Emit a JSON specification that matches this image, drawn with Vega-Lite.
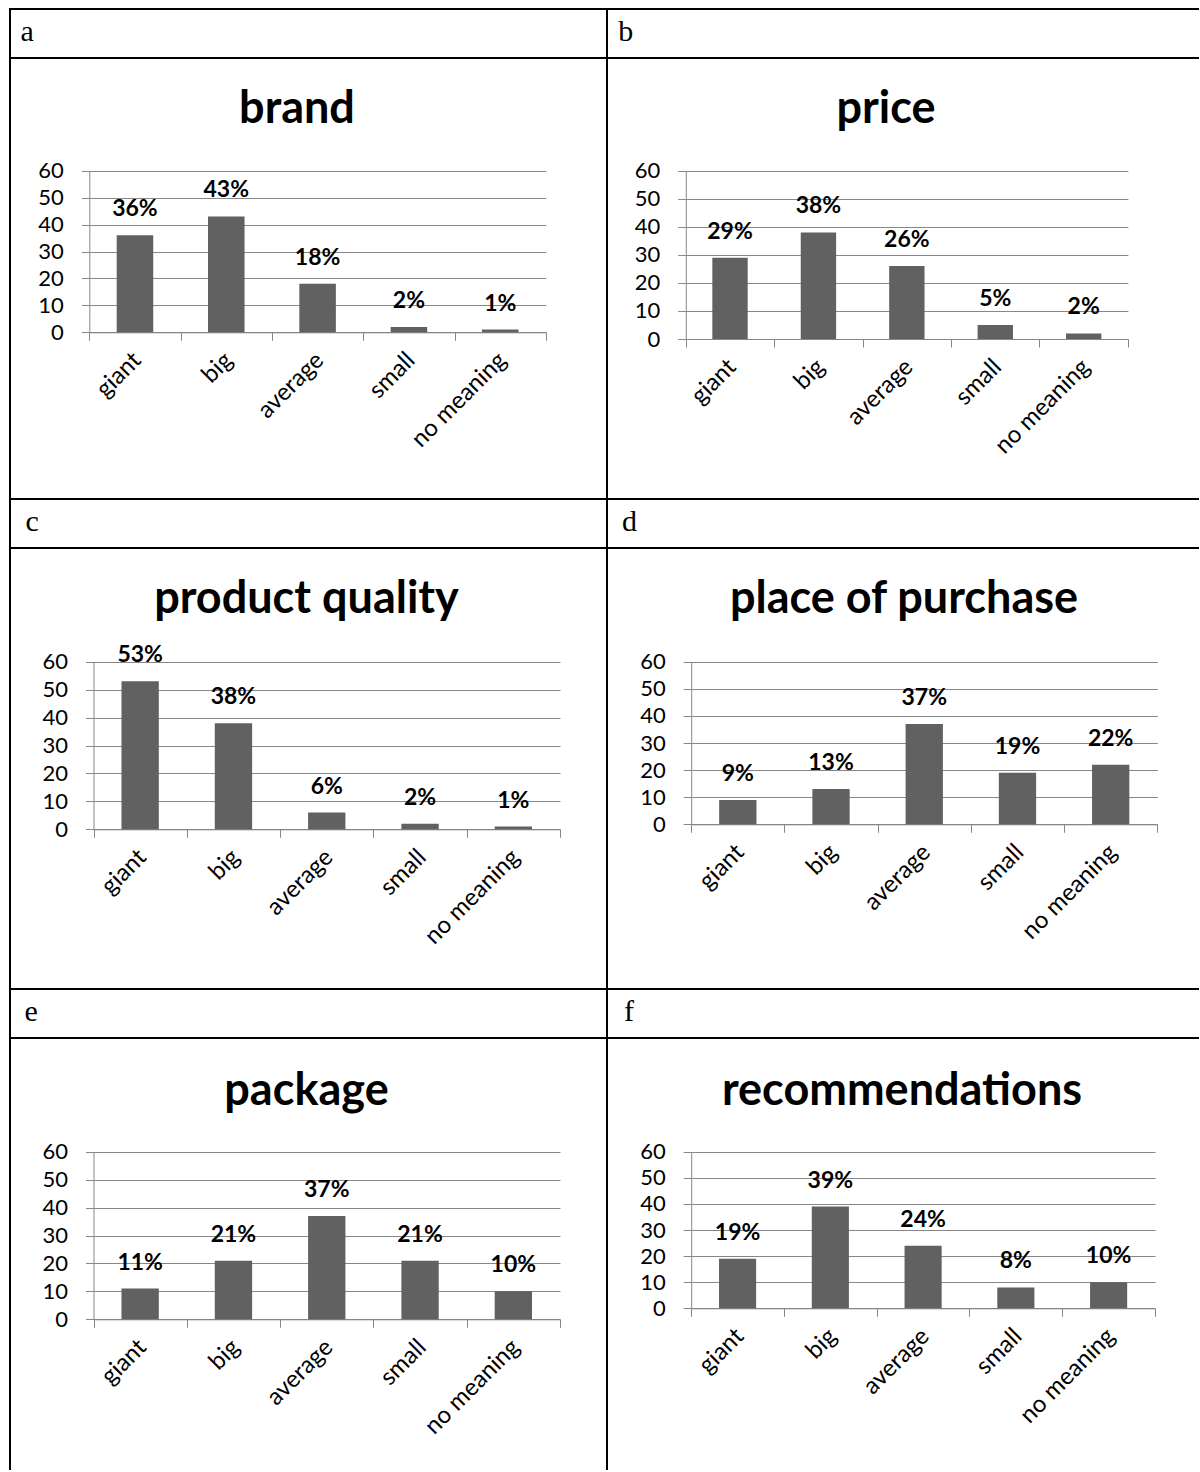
{
  "$schema": "https://vega.github.io/schema/vega-lite/v6.json",
  "padding": {"left": 0, "top": 8, "right": 0, "bottom": 0},
  "background": "white",
  "datasets": {
    "survey": [
      {"chart": "brand", "level": "giant", "value": 36},
      {"chart": "brand", "level": "big", "value": 43},
      {"chart": "brand", "level": "average", "value": 18},
      {"chart": "brand", "level": "small", "value": 2},
      {"chart": "brand", "level": "no meaning", "value": 1},
      {"chart": "price", "level": "giant", "value": 29},
      {"chart": "price", "level": "big", "value": 38},
      {"chart": "price", "level": "average", "value": 26},
      {"chart": "price", "level": "small", "value": 5},
      {"chart": "price", "level": "no meaning", "value": 2},
      {"chart": "product quality", "level": "giant", "value": 53},
      {"chart": "product quality", "level": "big", "value": 38},
      {"chart": "product quality", "level": "average", "value": 6},
      {"chart": "product quality", "level": "small", "value": 2},
      {"chart": "product quality", "level": "no meaning", "value": 1},
      {"chart": "place of purchase", "level": "giant", "value": 9},
      {"chart": "place of purchase", "level": "big", "value": 13},
      {"chart": "place of purchase", "level": "average", "value": 37},
      {"chart": "place of purchase", "level": "small", "value": 19},
      {"chart": "place of purchase", "level": "no meaning", "value": 22},
      {"chart": "package", "level": "giant", "value": 11},
      {"chart": "package", "level": "big", "value": 21},
      {"chart": "package", "level": "average", "value": 37},
      {"chart": "package", "level": "small", "value": 21},
      {"chart": "package", "level": "no meaning", "value": 10},
      {"chart": "recommendations", "level": "giant", "value": 19},
      {"chart": "recommendations", "level": "big", "value": 39},
      {"chart": "recommendations", "level": "average", "value": 24},
      {"chart": "recommendations", "level": "small", "value": 8},
      {"chart": "recommendations", "level": "no meaning", "value": 10}
    ]
  },
  "columns": 2,
  "spacing": 0,
  "bounds": "flush",
  "concat": [
    {"width": 597, "height": 49, "data": {"values": []}, "mark": "text",
     "view": {"style": "cell"},
     "title": {"text": "a", "anchor": "start", "frame": "group", "offset": -62, "dx": 10.5, "baseline": "alphabetic", "font": "Liberation Serif", "fontSize": 30, "fontWeight": "normal"}},
    {"width": 592, "height": 49, "data": {"values": []}, "mark": "text",
     "view": {"style": "cell", "strokeDash": [592, 49, 641, 0]},
     "title": {"text": "b", "anchor": "start", "frame": "group", "offset": -62, "dx": 11.3, "baseline": "alphabetic", "font": "Liberation Serif", "fontSize": 30, "fontWeight": "normal"}},
    {
      "width": 597, "height": 441,
      "title": {"text": "brand", "offset": -74, "dx": -11.5},
      "data": {"name": "survey"},
      "transform": [{"filter": "datum.chart === 'brand'"}, {"calculate": "datum.value + '%'", "as": "label"}],
      "encoding": {
        "x": {"field": "level", "type": "nominal", "sort": null, "title": null,
              "scale": {"domain": ["giant", "big", "average", "small", "no meaning"], "range": [79.3, 535.9], "padding": 0},
              "axis": {"offset": -166.7}},
        "y": {"field": "value", "type": "quantitative", "title": null,
              "scale": {"domain": [0, 60], "range": [274.3, 112.7], "nice": false},
              "axis": {"offset": -79.3, "values": [0, 10, 20, 30, 40, 50, 60]}}
      },
      "layer": [
        {"mark": {"type": "bar", "width": {"band": 0.4}}},
        {"mark": {"type": "text"}, "encoding": {"text": {"field": "label"}}}
      ]
    },
    {
      "width": 592, "height": 441,
      "view": {"strokeDash": [592, 441, 1033, 0]},
      "title": {"text": "price", "offset": -74, "dx": -17},
      "data": {"name": "survey"},
      "transform": [{"filter": "datum.chart === 'price'"}, {"calculate": "datum.value + '%'", "as": "label"}],
      "encoding": {
        "x": {"field": "level", "type": "nominal", "sort": null, "title": null,
              "scale": {"domain": ["giant", "big", "average", "small", "no meaning"], "range": [78.8, 520.9], "padding": 0},
              "axis": {"offset": -160}},
        "y": {"field": "value", "type": "quantitative", "title": null,
              "scale": {"domain": [0, 60], "range": [281, 112.7], "nice": false},
              "axis": {"offset": -78.8, "values": [0, 10, 20, 30, 40, 50, 60]}}
      },
      "layer": [
        {"mark": {"type": "bar", "width": {"band": 0.4}}},
        {"mark": {"type": "text"}, "encoding": {"text": {"field": "label"}}}
      ]
    },
    {"width": 597, "height": 49, "data": {"values": []}, "mark": "text",
     "view": {"style": "cell"},
     "title": {"text": "c", "anchor": "start", "frame": "group", "offset": -62, "dx": 15.5, "baseline": "alphabetic", "font": "Liberation Serif", "fontSize": 30, "fontWeight": "normal"}},
    {"width": 592, "height": 49, "data": {"values": []}, "mark": "text",
     "view": {"style": "cell", "strokeDash": [592, 49, 641, 0]},
     "title": {"text": "d", "anchor": "start", "frame": "group", "offset": -62, "dx": 15, "baseline": "alphabetic", "font": "Liberation Serif", "fontSize": 30, "fontWeight": "normal"}},
    {
      "width": 597, "height": 441,
      "title": {"text": "product quality", "offset": -74, "dx": -2},
      "data": {"name": "survey"},
      "transform": [{"filter": "datum.chart === 'product quality'"}, {"calculate": "datum.value + '%'", "as": "label"}],
      "encoding": {
        "x": {"field": "level", "type": "nominal", "sort": null, "title": null,
              "scale": {"domain": ["giant", "big", "average", "small", "no meaning"], "range": [83.5, 550], "padding": 0},
              "axis": {"offset": -159.7}},
        "y": {"field": "value", "type": "quantitative", "title": null,
              "scale": {"domain": [0, 60], "range": [281.3, 113.7], "nice": false},
              "axis": {"offset": -83.5, "values": [0, 10, 20, 30, 40, 50, 60]}}
      },
      "layer": [
        {"mark": {"type": "bar", "width": {"band": 0.4}}},
        {"mark": {"type": "text"}, "encoding": {"text": {"field": "label"}}}
      ]
    },
    {
      "width": 592, "height": 441,
      "view": {"strokeDash": [592, 441, 1033, 0]},
      "title": {"text": "place of purchase", "offset": -74, "dx": 1},
      "data": {"name": "survey"},
      "transform": [{"filter": "datum.chart === 'place of purchase'"}, {"calculate": "datum.value + '%'", "as": "label"}],
      "encoding": {
        "x": {"field": "level", "type": "nominal", "sort": null, "title": null,
              "scale": {"domain": ["giant", "big", "average", "small", "no meaning"], "range": [84.2, 550.3], "padding": 0},
              "axis": {"offset": -164.7}},
        "y": {"field": "value", "type": "quantitative", "title": null,
              "scale": {"domain": [0, 60], "range": [276.3, 113.7], "nice": false},
              "axis": {"offset": -84.2, "values": [0, 10, 20, 30, 40, 50, 60]}}
      },
      "layer": [
        {"mark": {"type": "bar", "width": {"band": 0.4}}},
        {"mark": {"type": "text"}, "encoding": {"text": {"field": "label"}}}
      ]
    },
    {"width": 597, "height": 49, "data": {"values": []}, "mark": "text",
     "view": {"style": "cell"},
     "title": {"text": "e", "anchor": "start", "frame": "group", "offset": -62, "dx": 14.5, "baseline": "alphabetic", "font": "Liberation Serif", "fontSize": 30, "fontWeight": "normal"}},
    {"width": 592, "height": 49, "data": {"values": []}, "mark": "text",
     "view": {"style": "cell", "strokeDash": [592, 49, 641, 0]},
     "title": {"text": "f", "anchor": "start", "frame": "group", "offset": -62, "dx": 17, "baseline": "alphabetic", "font": "Liberation Serif", "fontSize": 30, "fontWeight": "normal"}},
    {
      "width": 597, "height": 432,
      "view": {"strokeDash": [1029, 597, 432, 0]},
      "title": {"text": "package", "offset": -76, "dx": -2},
      "data": {"name": "survey"},
      "transform": [{"filter": "datum.chart === 'package'"}, {"calculate": "datum.value + '%'", "as": "label"}],
      "encoding": {
        "x": {"field": "level", "type": "nominal", "sort": null, "title": null,
              "scale": {"domain": ["giant", "big", "average", "small", "no meaning"], "range": [83.5, 550], "padding": 0},
              "axis": {"offset": -150.7}},
        "y": {"field": "value", "type": "quantitative", "title": null,
              "scale": {"domain": [0, 60], "range": [281.3, 113.7], "nice": false},
              "axis": {"offset": -83.5, "values": [0, 10, 20, 30, 40, 50, 60]}}
      },
      "layer": [
        {"mark": {"type": "bar", "width": {"band": 0.4}}},
        {"mark": {"type": "text"}, "encoding": {"text": {"field": "label"}}}
      ]
    },
    {
      "width": 592, "height": 432,
      "view": {"strokeDash": [592, 1024, 432, 0]},
      "title": {"text": "recommendations", "offset": -76, "dx": -1},
      "data": {"name": "survey"},
      "transform": [{"filter": "datum.chart === 'recommendations'"}, {"calculate": "datum.value + '%'", "as": "label"}],
      "encoding": {
        "x": {"field": "level", "type": "nominal", "sort": null, "title": null,
              "scale": {"domain": ["giant", "big", "average", "small", "no meaning"], "range": [84.2, 548], "padding": 0},
              "axis": {"offset": -161.7}},
        "y": {"field": "value", "type": "quantitative", "title": null,
              "scale": {"domain": [0, 60], "range": [270.3, 113.7], "nice": false},
              "axis": {"offset": -84.2, "values": [0, 10, 20, 30, 40, 50, 60]}}
      },
      "layer": [
        {"mark": {"type": "bar", "width": {"band": 0.4}}},
        {"mark": {"type": "text"}, "encoding": {"text": {"field": "label"}}}
      ]
    }
  ],
  "config": {
    "font": "Lato",
    "view": {"stroke": "black", "strokeWidth": 2},
    "title": {"font": "Lato", "fontSize": 45, "fontWeight": "bold", "color": "black", "frame": "group", "anchor": "middle", "baseline": "alphabetic"},
    "bar": {"color": "#616161"},
    "text": {"font": "Lato", "fontSize": 23, "fontWeight": "bold", "color": "black", "baseline": "alphabetic", "dy": -19},
    "axis": {
      "labelFont": "Lato", "labelFontSize": 24, "labelColor": "black",
      "domainColor": "#878787", "tickColor": "#878787", "gridColor": "#878787",
      "domainWidth": 1, "tickWidth": 1, "gridWidth": 1, "tickSize": 8
    },
    "axisX": {"grid": false, "tickBand": "extent", "labelAngle": -45, "labelAlign": "right", "labelBaseline": "middle", "labelPadding": 16, "labelOffset": 2},
    "axisY": {"grid": true, "labelPadding": 18, "labelFontSize": 22}
  }
}
